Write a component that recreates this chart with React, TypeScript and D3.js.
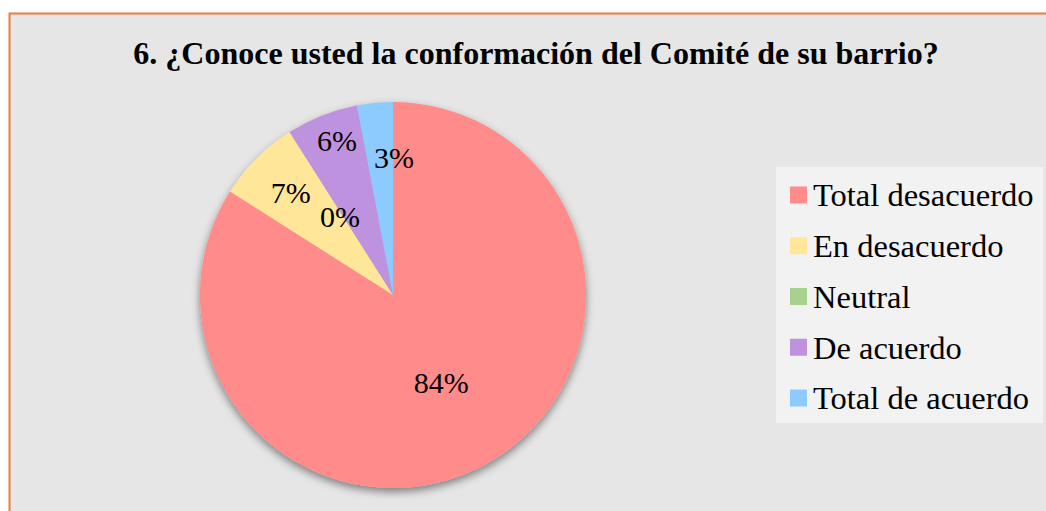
import React, { useEffect, useRef } from "react";
import * as d3 from "d3";

const title = "6. ¿Conoce usted la conformación del Comité de su barrio?";
const categories = ["Total desacuerdo", "En desacuerdo", "Neutral", "De acuerdo", "Total de acuerdo"];
const values = [84, 7, 0, 6, 3];
const colors = ["#ff8b8b", "#ffe699", "#a9d18e", "#bf92df", "#8dcbff"];
// where each data label sits: fraction of the radius, and a small angle nudge (deg)
const labelRadius = [0.52, 0.75, 0.49, 0.85, 0.71];
const labelNudge = [0, 0, -1.6, 1.6, 5.8];

const width = 1046;
const height = 511;
const serif = "Liberation Serif";

export default function App() {
  const ref = useRef<SVGSVGElement>(null);

  useEffect(() => {
    const svg = d3.select(ref.current);
    svg.selectAll("*").remove();

    const defs = svg.append("defs");
    const f = defs
      .append("filter")
      .attr("id", "shadow")
      .attr("x", "-20%")
      .attr("y", "-20%")
      .attr("width", "140%")
      .attr("height", "140%");
    f.append("feDropShadow")
      .attr("dx", 0)
      .attr("dy", 4)
      .attr("stdDeviation", 4)
      .attr("flood-color", "#000")
      .attr("flood-opacity", 0.45);

    // chart area
    svg
      .append("rect")
      .attr("x", 9.5)
      .attr("y", 13.5)
      .attr("width", width)
      .attr("height", height)
      .attr("fill", "#e6e6e6")
      .attr("stroke", "#ed7d31")
      .attr("stroke-width", 2);

    svg
      .append("text")
      .attr("x", 536)
      .attr("y", 64)
      .attr("text-anchor", "middle")
      .attr("font-family", serif)
      .attr("font-weight", "bold")
      .attr("font-size", 32)
      .attr("fill", "#000")
      .text(title);

    const cx = 393;
    const cy = 295;
    const r = 193;

    const pie = d3
      .pie<number>()
      .sort(null)
      .value((d) => d);
    const arcs = pie(values);
    const arc = d3.arc<d3.PieArcDatum<number>>().innerRadius(0).outerRadius(r);

    const g = svg.append("g").attr("transform", `translate(${cx},${cy})`);
    g.append("g")
      .attr("filter", "url(#shadow)")
      .selectAll("path")
      .data(arcs)
      .join("path")
      .attr("d", arc)
      .attr("fill", (d, i) => colors[i]);

    g.selectAll("text.lbl")
      .data(arcs)
      .join("text")
      .attr("class", "lbl")
      .attr("transform", (d, i) => {
        const a = (d.startAngle + d.endAngle) / 2 + (labelNudge[i] * Math.PI) / 180;
        const rr = r * labelRadius[i];
        return `translate(${rr * Math.sin(a)},${-rr * Math.cos(a)})`;
      })
      .attr("text-anchor", "middle")
      .attr("dy", "0.35em")
      .attr("font-family", serif)
      .attr("font-size", 30)
      .attr("fill", "#000")
      .text((d) => `${d.data}%`);

    // legend
    const lg = svg.append("g");
    lg.append("rect")
      .attr("x", 776)
      .attr("y", 167)
      .attr("width", 267)
      .attr("height", 256)
      .attr("fill", "#f2f2f2");

    const y = d3
      .scalePoint<string>()
      .domain(categories)
      .range([195, 398]);

    const item = lg
      .selectAll("g.item")
      .data(categories)
      .join("g")
      .attr("class", "item")
      .attr("transform", (d) => `translate(790,${y(d)})`);
    item
      .append("rect")
      .attr("x", 0)
      .attr("y", -8.5)
      .attr("width", 17)
      .attr("height", 17)
      .attr("fill", (d, i) => colors[i]);
    item
      .append("text")
      .attr("x", 23)
      .attr("dy", "0.35em")
      .attr("font-family", serif)
      .attr("font-size", 32.5)
      .attr("fill", "#000")
      .text((d) => d);
  }, []);

  return (
    <div style={{ position: "absolute", left: 0, top: 0 }}>
      <svg ref={ref} width={width} height={height} style={{ display: "block", background: "#fff" }} />
    </div>
  );
}
